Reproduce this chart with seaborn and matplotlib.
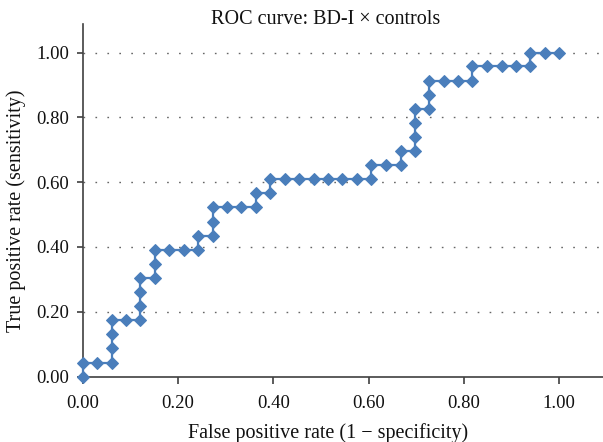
import matplotlib
matplotlib.use("Agg")
import matplotlib.pyplot as plt
import seaborn as sns

# ROC points (false positive rate, true positive rate)
fpr = [0.000, 0.000, 0.030, 0.061, 0.061, 0.061, 0.061, 0.091, 0.121, 0.121,
       0.121, 0.121, 0.152, 0.152, 0.152, 0.182, 0.212, 0.242, 0.242, 0.273,
       0.273, 0.273, 0.303, 0.333, 0.364, 0.364, 0.394, 0.394, 0.424, 0.455,
       0.485, 0.515, 0.545, 0.576, 0.606, 0.606, 0.636, 0.667, 0.667, 0.697,
       0.697, 0.697, 0.697, 0.727, 0.727, 0.727, 0.758, 0.788, 0.818, 0.818,
       0.848, 0.879, 0.909, 0.939, 0.939, 0.970, 1.000]
tpr = [0.000, 0.043, 0.043, 0.043, 0.087, 0.130, 0.174, 0.174, 0.174, 0.217,
       0.261, 0.304, 0.304, 0.348, 0.391, 0.391, 0.391, 0.391, 0.435, 0.435,
       0.478, 0.522, 0.522, 0.522, 0.522, 0.565, 0.565, 0.609, 0.609, 0.609,
       0.609, 0.609, 0.609, 0.609, 0.609, 0.652, 0.652, 0.652, 0.696, 0.696,
       0.739, 0.783, 0.826, 0.826, 0.870, 0.913, 0.913, 0.913, 0.913, 0.957,
       0.957, 0.957, 0.957, 0.957, 1.000, 1.000, 1.000]

x_ticks = [0.0, 0.2, 0.4, 0.6, 0.8, 1.0]
y_ticks = [0.0, 0.2, 0.4, 0.6, 0.8, 1.0]

sns.set_style("white")
plt.rcParams["font.family"] = ["Liberation Serif", "DejaVu Serif"]

W, H = 603, 442
fig = plt.figure(figsize=(W / 100, H / 100), dpi=100)
ax = fig.add_axes([82.7 / W, 1 - 376.5 / H, (W - 82.7) / W, (376.5 - 24) / H])

# horizontal dotted gridlines
for y in y_ticks[1:]:
    ax.axhline(y, color="#666666", lw=1.0, ls=(0, (1.2, 7.4)), zorder=0)

sns.lineplot(x=fpr, y=tpr, sort=False, estimator=None, ax=ax,
             color="#4a7ebb", lw=1.6, marker="D", markersize=6.2,
             markeredgecolor="#4a7ebb", zorder=3, clip_on=False)

ax.set_xlim(0, 1.092)
ax.set_ylim(0, 1.088)
ax.set_xticks(x_ticks)
ax.set_yticks(y_ticks)
ax.set_xticklabels([f"{v:.2f}" for v in x_ticks])
ax.set_yticklabels([f"{v:.2f}" for v in y_ticks])

for side in ["top", "right"]:
    ax.spines[side].set_visible(False)
for side in ["left", "bottom"]:
    ax.spines[side].set_color("#404040")
    ax.spines[side].set_linewidth(1.2)
    ax.spines[side].set_zorder(1)

ax.tick_params(axis="x", direction="out", length=5, width=1.2,
               color="#404040", labelsize=13.5, labelcolor="#111111",
               bottom=True, pad=8)
ax.tick_params(axis="y", direction="out", length=4, width=1.2,
               color="#404040", labelsize=13.5, labelcolor="#111111",
               left=True, pad=6)

fig.text(326 / W, 1 - 24 / H, "ROC curve: BD-I × controls", fontsize=14.5,
         ha="center", va="baseline", color="#111111")
fig.text(328.5 / W, 1 - 438 / H, "False positive rate (1 − specificity)",
         fontsize=14.5, ha="center", va="baseline", color="#111111")
fig.text(16 / W, 1 - 211 / H, "True positive rate (sensitivity)",
         fontsize=14.5, ha="center", va="center", rotation=90, color="#111111")

fig.savefig("out.png", dpi=100)
